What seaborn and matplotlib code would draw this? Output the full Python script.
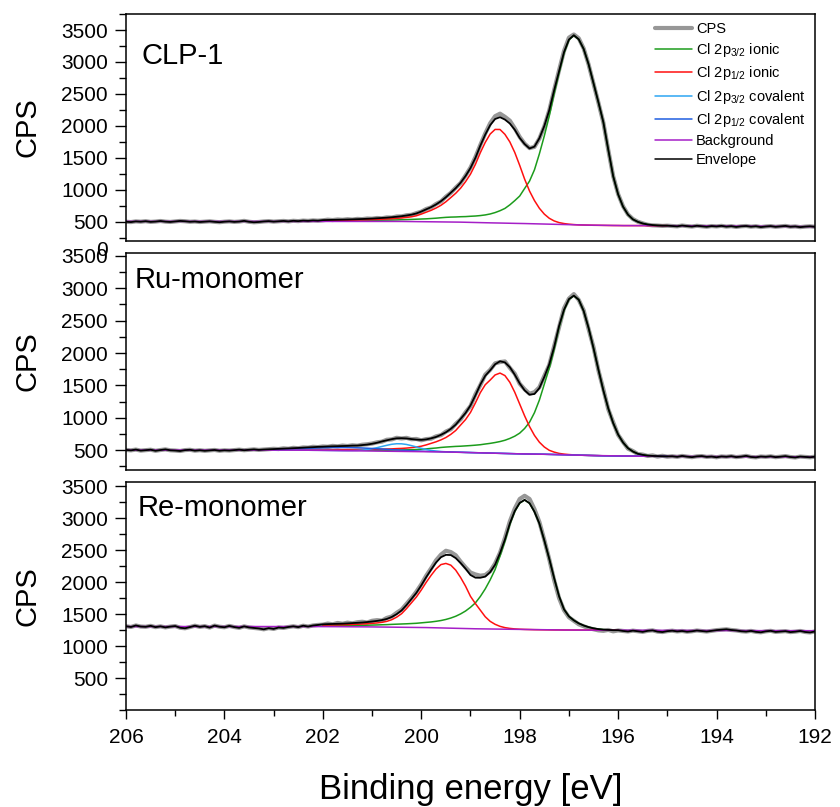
import numpy as np
import matplotlib
matplotlib.use("Agg")
import matplotlib.pyplot as plt
import matplotlib.transforms as mtransforms
from matplotlib.lines import Line2D
from matplotlib.ticker import MultipleLocator, FixedLocator
import seaborn as sns

# binding energy axis of the scans, 0.1 eV step from 206 down to 192 eV
energy = np.round(np.linspace(206.0, 192.0, 141), 1)

# ---------------- CLP-1 ----------------
clp_fit = (202.0, 195.0)
clp_cps = [
    497, 492, 503, 498, 506, 495, 500, 509, 499, 494,
    502, 510, 505, 497, 501, 493, 499, 504, 496, 490,
    498, 503, 495, 500, 511, 497, 489, 494, 502, 507,
    499, 504, 510, 503, 512, 507, 515, 511, 518, 514,
    520, 530, 524, 533, 528, 537, 531, 542, 538, 548,
    545, 556, 552, 565, 563, 580, 581, 599, 606, 632,
    655, 697, 722, 775, 815, 889, 950, 1031, 1105, 1222,
    1345, 1510, 1700, 1880, 2040, 2150, 2190, 2140, 2080, 1960,
    1825, 1720, 1650, 1670, 1800, 1990, 2240, 2560, 2870, 3170,
    3380, 3430, 3370, 3210, 2960, 2660, 2360, 2050, 1620, 1210,
    930, 740, 612, 540, 498, 472, 450, 441, 438, 432,
    436,
    431, 425, 438, 429, 422, 434, 427, 419, 430, 424,
    433, 421, 428, 416, 426, 431, 420, 427, 414, 423,
    429, 418, 425, 432, 419, 424, 413, 421, 426, 418,
]
clp_bg = [
    503, 503, 503, 503, 503, 503, 503, 503, 503, 503,
    503, 503, 503, 503, 503, 503, 503, 503, 503, 503,
    503, 503, 503, 503, 503, 503, 503, 503, 503, 503,
    503, 503, 503, 503, 503, 503, 503, 503, 503, 503,
    503, 503, 503, 503, 503, 503, 503, 503, 503, 503,
    503, 503, 503, 502, 502, 502, 502, 501, 501, 501,
    500, 499, 498, 497, 496, 495, 494, 492, 491, 489,
    488, 486, 484, 482, 480, 478, 477, 475, 474, 472,
    470, 469, 467, 466, 464, 462, 460, 458, 456, 454,
    452, 450, 448, 446, 444, 442, 441, 440, 439, 438,
    438, 437, 437, 437, 437, 437, 436, 436, 436, 436,
    436,
    435, 435, 434, 434, 433, 433, 432, 432, 431, 431,
    430, 430, 429, 429, 428, 428, 427, 427, 426, 426,
    425, 425, 424, 424, 423, 423, 422, 422, 421, 421,
]
# peak heights above background, 202.0 -> 195.0 eV
clp_ionic32 = [
    9, 9, 10, 10, 11, 12, 12, 13, 14, 15,
    16, 18, 19, 21, 22, 24, 27, 30, 33, 36,
    40, 44, 50, 56, 64, 71, 76, 80, 85, 89,
    95, 101, 110, 122, 139, 163, 193, 231, 288, 356,
    430, 549, 667, 845, 1097, 1379, 1690, 2046, 2372, 2683,
    2891, 2965, 2906, 2757, 2520, 2224, 1927, 1616, 1186, 771,
    489, 297, 172, 98, 59, 33, 18, 9, 3, 0,
    0,
]
clp_ionic12 = [
    11, 13, 13, 14, 16, 17, 18, 21, 23, 25,
    28, 31, 34, 38, 44, 49, 55, 64, 74, 90,
    117, 148, 178, 215, 259, 315, 382, 451, 533, 636,
    755, 910, 1095, 1258, 1391, 1465, 1465, 1391, 1273, 1110,
    910, 696, 511, 363, 244, 155, 92, 52, 28, 15,
    7, 3, 0, 0, 0, 0, 0, 0, 0, 0,
    0, 0, 0, 0, 0, 0, 0, 0, 0, 0,
    0,
]

# ---------------- Ru-monomer ----------------
ru_fit = (203.0, 195.0)
ru_cps = [
    503, 496, 508, 492, 499, 506, 489, 501, 511, 497,
    493, 486, 500, 505, 491, 498, 489, 495, 502, 490,
    497, 493, 500, 507, 498, 505, 511, 503, 509, 514,
    520, 516, 527, 521, 535, 529, 541, 538, 551, 546,
    556, 552, 565, 558, 570, 563, 574, 568, 583, 590,
    601, 620, 630, 660, 665, 690, 680, 689, 668, 672,
    651, 670, 676, 712, 730, 786, 821, 905, 975, 1085,
    1180, 1360, 1505, 1665, 1740, 1840, 1860, 1870, 1770, 1680,
    1525, 1440, 1370, 1395, 1470, 1645, 1815, 2110, 2400, 2690,
    2840, 2910, 2820, 2660, 2370, 2090, 1730, 1440, 1130, 930,
    735, 625, 522, 486, 438, 431, 409, 418, 400, 412,
    398,
    405, 396, 410, 399, 391, 403, 408, 395, 400, 389,
    402, 397, 406, 392, 399, 411, 394, 388, 401, 396,
    404, 391, 398, 407, 393, 386, 400, 395, 389, 398,
]
ru_bg = [
    500, 500, 500, 500, 500, 500, 500, 500, 500, 500,
    500, 500, 500, 500, 500, 500, 500, 500, 500, 500,
    500, 500, 500, 500, 500, 500, 500, 500, 500, 500,
    500, 500, 500, 499, 499, 499, 498, 498, 497, 497,
    496, 495, 494, 493, 492, 491, 490, 489, 488, 487,
    486, 485, 484, 483, 482, 481, 480, 479, 478, 477,
    476, 475, 474, 473, 472, 471, 470, 468, 466, 464,
    462, 460, 458, 456, 454, 452, 450, 448, 446, 444,
    442, 440, 439, 438, 437, 436, 434, 432, 430, 428,
    426, 424, 422, 420, 418, 416, 414, 412, 411, 410,
    409, 408, 407, 407, 406, 406, 405, 405, 404, 404,
    403,
    403, 403, 402, 402, 402, 401, 401, 401, 400, 400,
    400, 400, 399, 399, 399, 399, 398, 398, 398, 398,
    398, 397, 397, 397, 397, 397, 396, 396, 396, 396,
]
# peak heights above background, 203.0 -> 195.0 eV
ru_ionic32 = [
    2, 2, 2, 3, 3, 3, 4, 4, 4, 5,
    5, 6, 6, 7, 7, 8, 9, 9, 10, 11,
    12, 12, 14, 15, 17, 20, 22, 25, 28, 32,
    38, 44, 52, 59, 69, 76, 82, 89, 94, 101,
    108, 116, 125, 138, 150, 165, 182, 204, 234, 271,
    320, 394, 492, 640, 836, 1082, 1328, 1624, 1968, 2229,
    2401, 2460, 2401, 2229, 1968, 1658, 1328, 1009, 733, 507,
    332, 209, 123, 71, 37, 20, 10, 5, 2, 1,
    0,
]
ru_ionic12 = [
    6, 7, 7, 8, 9, 9, 10, 11, 11, 12,
    12, 13, 14, 15, 16, 17, 19, 20, 22, 24,
    26, 28, 31, 34, 37, 42, 46, 52, 60, 71,
    84, 105, 130, 155, 186, 223, 273, 335, 422, 508,
    620, 769, 930, 1054, 1128, 1209, 1240, 1203, 1101, 949,
    769, 589, 425, 289, 185, 112, 63, 37, 19, 10,
    5, 2, 0, 0, 0, 0, 0, 0, 0, 0,
    0, 0, 0, 0, 0, 0, 0, 0, 0, 0,
    0,
]
ru_cov32 = [
    0, 0, 0, 0, 0, 0, 0, 0, 0, 0,
    0, 0, 0, 0, 0, 1, 3, 6, 12, 21,
    35, 52, 72, 91, 108, 117, 117, 108, 91, 72,
    52, 35, 21, 12, 6, 3, 1, 0, 0, 0,
    0, 0, 0, 0, 0, 0, 0, 0, 0, 0,
    0, 0, 0, 0, 0, 0, 0, 0, 0, 0,
    0, 0, 0, 0, 0, 0, 0, 0, 0, 0,
    0, 0, 0, 0, 0, 0, 0, 0, 0, 0,
    0,
]
ru_cov12 = [
    8, 10, 13, 16, 19, 22, 25, 29, 33, 36,
    39, 42, 45, 46, 48, 48, 48, 46, 45, 42,
    39, 36, 33, 29, 25, 22, 19, 16, 13, 10,
    8, 6, 5, 4, 3, 2, 2, 1, 1, 0,
    0, 0, 0, 0, 0, 0, 0, 0, 0, 0,
    0, 0, 0, 0, 0, 0, 0, 0, 0, 0,
    0, 0, 0, 0, 0, 0, 0, 0, 0, 0,
    0, 0, 0, 0, 0, 0, 0, 0, 0, 0,
    0,
]

# ---------------- Re-monomer ----------------
re_fit = (202.0, 196.0)
re_cps = [
    1310, 1298, 1322, 1305, 1301, 1316, 1296, 1308, 1292, 1304,
    1313, 1286, 1278, 1297, 1318, 1300, 1311, 1289, 1320, 1302,
    1294, 1315, 1297, 1285, 1308, 1291, 1283, 1275, 1262, 1280,
    1268, 1290, 1284, 1298, 1309, 1296, 1318, 1305, 1322, 1330,
    1335, 1352, 1340, 1361, 1349, 1366, 1355, 1372, 1380, 1368,
    1395, 1405, 1398, 1440, 1462, 1520, 1570, 1660, 1750, 1850,
    1965, 2100, 2215, 2340, 2430, 2490, 2470, 2420, 2320, 2230,
    2150, 2120, 2100, 2110, 2170, 2290, 2460, 2690, 2950, 3150,
    3300, 3350, 3300, 3140, 2940, 2660, 2360, 2030, 1750, 1560,
    1450, 1395, 1340, 1310, 1280, 1262, 1245, 1238, 1252, 1230,
    1244,
    1236, 1228, 1241, 1232, 1222, 1238, 1245, 1226, 1219, 1233,
    1240, 1229, 1236, 1224, 1231, 1243, 1235, 1227, 1238, 1249,
    1256, 1262, 1251, 1244, 1232, 1226, 1237, 1222, 1215, 1230,
    1238, 1221, 1227, 1233, 1218, 1225, 1236, 1220, 1213, 1228,
]
re_bg = [
    1305, 1305, 1305, 1305, 1305, 1305, 1305, 1305, 1305, 1305,
    1305, 1305, 1305, 1305, 1305, 1305, 1305, 1305, 1305, 1305,
    1305, 1305, 1305, 1305, 1305, 1305, 1305, 1305, 1305, 1305,
    1305, 1305, 1305, 1305, 1305, 1305, 1305, 1305, 1305, 1305,
    1304, 1304, 1303, 1303, 1302, 1302, 1301, 1301, 1300, 1300,
    1299, 1298, 1298, 1297, 1296, 1295, 1294, 1293, 1292, 1291,
    1290, 1289, 1288, 1286, 1284, 1282, 1280, 1278, 1276, 1274,
    1272, 1270, 1268, 1266, 1265, 1264, 1263, 1262, 1261, 1260,
    1259, 1258, 1257, 1256, 1255, 1254, 1253, 1252, 1252, 1251,
    1251, 1250, 1250, 1250, 1249, 1249, 1249, 1249, 1248, 1248,
    1248,
    1248, 1248, 1247, 1247, 1247, 1246, 1246, 1246, 1245, 1245,
    1245, 1245, 1244, 1244, 1244, 1244, 1243, 1243, 1243, 1243,
    1243, 1242, 1242, 1242, 1242, 1242, 1241, 1241, 1241, 1241,
    1241, 1241, 1240, 1240, 1240, 1240, 1240, 1240, 1240, 1240,
]
# peak heights above background, 202.0 -> 196.0 eV
re_ionic32 = [
    13, 14, 15, 16, 17, 18, 20, 22, 24, 26,
    29, 32, 35, 38, 43, 47, 51, 55, 60, 65,
    73, 81, 89, 101, 115, 134, 158, 188, 227, 274,
    334, 405, 507, 628, 770, 932, 1145, 1378, 1641, 1844,
    1975, 2026, 1975, 1844, 1661, 1398, 1114, 810, 527, 324,
    213, 152, 105, 71, 47, 28, 16, 8, 4, 0,
    0,
]
re_ionic12 = [
    23, 25, 27, 29, 31, 34, 37, 40, 44, 49,
    56, 63, 73, 89, 116, 157, 212, 293, 384, 475,
    586, 707, 818, 919, 990, 1010, 985, 909, 795, 662,
    505, 394, 293, 192, 121, 76, 45, 26, 15, 8,
    4, 2, 1, 0, 0, 0, 0, 0, 0, 0,
    0, 0, 0, 0, 0, 0, 0, 0, 0, 0,
    0,
]

panel_names = ["CLP-1", "Ru-monomer", "Re-monomer"]
legend_labels = ["CPS", "Cl 2p$_{3/2}$ ionic", "Cl 2p$_{1/2}$ ionic",
                 "Cl 2p$_{3/2}$ covalent", "Cl 2p$_{1/2}$ covalent",
                 "Background", "Envelope"]
x_ticks = [206, 204, 202, 200, 198, 196, 194, 192]
y_ticks = [500, 1000, 1500, 2000, 2500, 3000, 3500]

c_cps = "#979797"
c_i32 = "#1c9c1c"
c_i12 = "#ff1010"
c_c32 = "#2ea6f2"
c_c12 = "#1f5ee0"
c_bg = "#a51fc7"
c_env = "black"

panels = [
    dict(cps=clp_cps, bg=clp_bg, fit=clp_fit,
         peaks=[(clp_ionic32, c_i32), (clp_ionic12, c_i12)], ylim=(200, 3750)),
    dict(cps=ru_cps, bg=ru_bg, fit=ru_fit,
         peaks=[(ru_ionic32, c_i32), (ru_ionic12, c_i12),
                (ru_cov32, c_c32), (ru_cov12, c_c12)], ylim=(200, 3540)),
    dict(cps=re_cps, bg=re_bg, fit=re_fit,
         peaks=[(re_ionic32, c_i32), (re_ionic12, c_i12)], ylim=(0, 3570)),
]

sns.set_style("ticks")
plt.rcParams["font.family"] = ["Liberation Sans", "DejaVu Sans"]
plt.rcParams["mathtext.default"] = "regular"
plt.rcParams["text.color"] = "black"
plt.rcParams["axes.labelcolor"] = "black"
plt.rcParams["xtick.color"] = "black"
plt.rcParams["ytick.color"] = "black"

fig = plt.figure(figsize=(8.4, 8.07), dpi=100)
boxes = [[0.15, 0.7017, 0.8202, 0.2809],
         [0.15, 0.4182, 0.8202, 0.2679],
         [0.15, 0.1202, 0.8202, 0.2829]]
label_pos = [(0.0228, 0.779), (0.013, 0.838), (0.0164, 0.85)]

axes = []
for k, p in enumerate(panels):
    ax = fig.add_axes(boxes[k])
    axes.append(ax)
    cps = np.array(p["cps"], dtype=float)
    bg = np.array(p["bg"], dtype=float)
    hi, lo = p["fit"]
    mask = (energy <= hi + 1e-6) & (energy >= lo - 1e-6)
    e_fit = energy[mask]
    bg_fit = bg[mask]

    sns.lineplot(x=energy, y=cps, color=c_cps, lw=3.0, ax=ax)
    # envelope: sum of the fitted peaks inside the fit window, raw data outside
    env = cps.copy()
    env[mask] = bg_fit
    for net, col in p["peaks"]:
        net = np.array(net, dtype=float)
        env[mask] += net
        sns.lineplot(x=e_fit, y=bg_fit + net, color=col, lw=1.1, ax=ax)
    sns.lineplot(x=energy, y=bg, color=c_bg, lw=1.1, ax=ax)
    sns.lineplot(x=energy, y=env, color=c_env, lw=1.3, ax=ax)

    ax.set_xlim(206, 192)
    ax.set_ylim(*p["ylim"])
    ax.yaxis.set_major_locator(FixedLocator(y_ticks))
    ax.yaxis.set_minor_locator(MultipleLocator(250))
    ax.tick_params(axis="y", which="major", direction="out", length=7.9,
                   width=1.0, labelsize=15, pad=5, colors="black")
    ax.tick_params(axis="y", which="minor", direction="out", length=4.8,
                   width=1.0, colors="black")
    for s in ax.spines.values():
        s.set_visible(True)
        s.set_color("black")
        s.set_linewidth(1.1)
    ax.set_ylabel("CPS", fontsize=21, color="black")
    ax.yaxis.set_label_coords(-0.123, 0.5)
    ax.text(label_pos[k][0], label_pos[k][1], panel_names[k], transform=ax.transAxes,
            fontsize=21, va="baseline", ha="left", color="black")
    if k < 2:
        ax.tick_params(axis="x", which="both", bottom=False, labelbottom=False)
        ax.set_xlabel("")
    else:
        ax.xaxis.set_major_locator(FixedLocator(x_ticks))
        ax.xaxis.set_minor_locator(MultipleLocator(1))
        ax.tick_params(axis="x", which="major", direction="out", length=6.7,
                       width=1.0, labelsize=15, pad=6, colors="black")
        ax.tick_params(axis="x", which="minor", direction="out", length=4.0,
                       width=1.0, colors="black")
        ax.set_xlabel("Binding energy [eV]", fontsize=25, color="black")
        ax.xaxis.label.set_va("baseline")
        ax.xaxis.set_label_coords(0.5, -0.39)

# the "0" label of the top panel peeks out below it, as in the original
trans = mtransforms.blended_transform_factory(axes[0].transAxes, axes[0].transData)
axes[0].text(-0.026, 40, "0", transform=trans, ha="right", va="center",
             fontsize=15, clip_on=False, color="black")

handles = [
    Line2D([], [], color=c_cps, lw=3.0),
    Line2D([], [], color=c_i32, lw=1.1),
    Line2D([], [], color=c_i12, lw=1.1),
    Line2D([], [], color=c_c32, lw=1.1),
    Line2D([], [], color=c_c12, lw=1.1),
    Line2D([], [], color=c_bg, lw=1.1),
    Line2D([], [], color=c_env, lw=1.1),
]
axes[0].legend(handles, legend_labels, loc="upper left", bbox_to_anchor=(0.768, 0.965),
               frameon=False, fontsize=10.5, handlelength=2.5, handletextpad=0.3,
               labelspacing=0.36, borderaxespad=0, borderpad=0)

fig.savefig("out.png", dpi=100)
